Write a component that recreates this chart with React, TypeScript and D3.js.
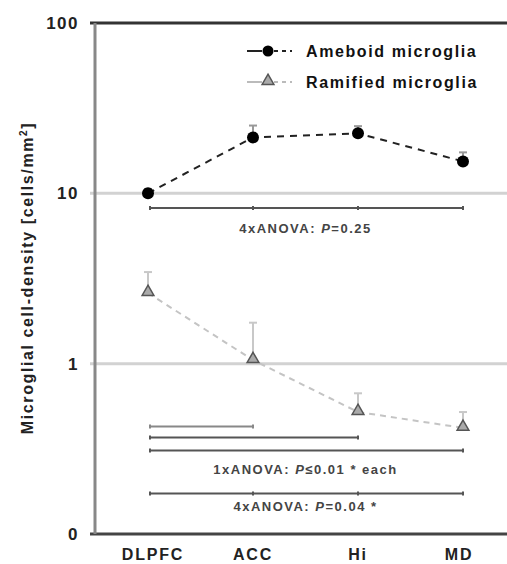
import * as d3 from 'd3';

// regions along the x axis
const regions = ['DLPFC', 'ACC', 'Hi', 'MD'];

// mean densities (cells/mm²) and upper error bar ends
const ameboid = [10, 21.3, 22.5, 15.4];
const ameboidErr = [10.6, 25, 24.8, 17.4];
const ramified = [2.6, 1.05, 0.52, 0.42];
const ramifiedErr = [3.45, 1.74, 0.67, 0.52];

// y ticks (log scale, the bottom one printed as "0")
const yTicks = [0.1, 1, 10, 100];
const yTickLabels = ['0', '1', '10', '100'];

// comparison brackets: from, to, value at which the bracket is drawn, inner ticks
const brackets = [
  { from: 'DLPFC', to: 'MD', at: 8.2, ticks: ['ACC', 'Hi'], light: false },
  { from: 'DLPFC', to: 'ACC', at: 0.427, ticks: [], light: true },
  { from: 'DLPFC', to: 'Hi', at: 0.368, ticks: [], light: false },
  { from: 'DLPFC', to: 'MD', at: 0.309, ticks: [], light: false },
  { from: 'DLPFC', to: 'MD', at: 0.173, ticks: ['ACC', 'Hi'], light: false },
];
const notes = [
  { at: 6.2, pre: '4xANOVA: ', post: '=0.25' },
  { at: 0.239, pre: '1xANOVA: ', post: '≤0.01 * each' },
  { at: 0.145, pre: '4xANOVA: ', post: '=0.04 *' },
];

export default function App() {
  const width = 507;
  const height = 564;
  const left = 95;
  const right = 507;

  const x = d3.scalePoint().domain(regions).range([148, 463]);
  const y = d3.scaleLog().domain([0.1, 100]).range([534, 23]);

  const seriesLine = d3
    .line<number>()
    .x((d, i) => x(regions[i])!)
    .y((d) => y(d));

  const tri = d3.symbol().type(d3.symbolTriangle).size(60)();
  const font = 'Arial, "Liberation Sans", sans-serif';
  const mid = (x(regions[0])! + x(regions[3])!) / 2;

  return (
    <svg
      width={width}
      height={height}
      style={{ position: 'absolute', left: 0, top: 0, background: '#fff' }}
      fontFamily={font}
    >
      {/* grid lines at 10 and 1 */}
      {[1, 10].map((t) => (
        <line key={t} x1={left - 5} x2={right} y1={y(t)} y2={y(t)} stroke="#d2d2d2" strokeWidth={3} />
      ))}

      {/* frame */}
      <line x1={left - 5} x2={right} y1={y(100)} y2={y(100)} stroke="#333" strokeWidth={3} />
      <line x1={left - 5} x2={right} y1={y(0.1)} y2={y(0.1)} stroke="#444" strokeWidth={3} />
      <line x1={left} x2={left} y1={y(100)} y2={y(0.1)} stroke="#888" strokeWidth={3} />

      {/* y tick labels */}
      {yTicks.map((t, i) => (
        <text
          key={t}
          x={79}
          y={y(t)}
          dy="0.36em"
          textAnchor="end"
          fontSize={17}
          fontWeight="bold"
          fill="#222"
          letterSpacing={1.5}
        >
          {yTickLabels[i]}
        </text>
      ))}

      {/* y axis title */}
      <text
        transform="translate(33,278) rotate(-90)"
        textAnchor="middle"
        fontSize={16}
        fontWeight="bold"
        fill="#222"
        letterSpacing={1.6}
      >
        Microglial cell-density [cells/mm
        <tspan dy={-6} fontSize={10}>2</tspan>
        <tspan dy={6}>]</tspan>
      </text>

      {/* x labels */}
      {regions.map((r) => (
        <text
          key={r}
          x={x(r)! + (r === 'DLPFC' ? 5 : r === 'MD' ? -4 : 0)}
          y={554}
          dy="0.36em"
          textAnchor="middle"
          fontSize={16}
          fontWeight="bold"
          fill="#222"
          letterSpacing={1.8}
        >
          {r}
        </text>
      ))}

      {/* comparison brackets */}
      {brackets.map((b, i) => {
        const by = y(b.at);
        const color = b.light ? '#888' : '#555';
        return (
          <g key={i} stroke={color} strokeWidth={2}>
            <line x1={x(b.from)! + 2} x2={x(b.to)!} y1={by} y2={by} />
            {[b.from, ...b.ticks, b.to].map((t, j) => (
              <line key={j} x1={x(t)! + (j === 0 ? 2 : 0)} x2={x(t)! + (j === 0 ? 2 : 0)} y1={by - 2} y2={by + 2} />
            ))}
          </g>
        );
      })}
      {notes.map((n, i) => (
        <text
          key={i}
          x={mid}
          y={y(n.at)}
          dy="0.36em"
          textAnchor="middle"
          fontSize={13}
          fontWeight="bold"
          fill="#444"
          letterSpacing={1.5}
        >
          {n.pre}
          <tspan fontStyle="italic">P</tspan>
          {n.post}
        </text>
      ))}

      {/* ramified series */}
      {ramified.map((v, i) => (
        <g key={i} stroke="#c8c8c8" strokeWidth={2}>
          <line x1={x(regions[i])} x2={x(regions[i])} y1={y(v)} y2={y(ramifiedErr[i])} />
          <line x1={x(regions[i])! - 4} x2={x(regions[i])! + 4} y1={y(ramifiedErr[i])} y2={y(ramifiedErr[i])} />
        </g>
      ))}
      <path d={seriesLine(ramified)!} fill="none" stroke="#c4c4c4" strokeWidth={2} strokeDasharray="6 5" />
      {ramified.map((v, i) => (
        <path
          key={i}
          d={tri!}
          transform={`translate(${x(regions[i])},${y(v) - 1})`}
          fill="#aaa"
          stroke="#555"
          strokeWidth={1.5}
        />
      ))}

      {/* ameboid series */}
      {ameboid.map((v, i) => (
        <g key={i} stroke="#999" strokeWidth={2}>
          <line x1={x(regions[i])} x2={x(regions[i])} y1={y(v)} y2={y(ameboidErr[i])} />
          <line x1={x(regions[i])! - 4} x2={x(regions[i])! + 4} y1={y(ameboidErr[i])} y2={y(ameboidErr[i])} />
        </g>
      ))}
      <path d={seriesLine(ameboid)!} fill="none" stroke="#222" strokeWidth={2} strokeDasharray="7 6" />
      {ameboid.map((v, i) => (
        <circle key={i} cx={x(regions[i])} cy={y(v)} r={6} fill="#000" />
      ))}

      {/* legend */}
      <g>
        <line x1={247} x2={262} y1={51} y2={51} stroke="#222" strokeWidth={2} />
        <line x1={274} x2={292} y1={51} y2={51} stroke="#222" strokeWidth={2} strokeDasharray="4 4" />
        <circle cx={268} cy={51} r={5.5} fill="#000" />
        <text x={306} y={51} dy="0.36em" fontSize={16} fontWeight="bold" fill="#111" letterSpacing={1.6}>
          Ameboid microglia
        </text>
        <line x1={247} x2={262} y1={82} y2={82} stroke="#bbb" strokeWidth={2} />
        <line x1={274} x2={292} y1={82} y2={82} stroke="#bbb" strokeWidth={2} strokeDasharray="4 4" />
        <path d={tri!} transform="translate(268,81)" fill="#aaa" stroke="#555" strokeWidth={1.5} />
        <text x={306} y={82} dy="0.36em" fontSize={16} fontWeight="bold" fill="#111" letterSpacing={1.6}>
          Ramified microglia
        </text>
      </g>
    </svg>
  );
}
